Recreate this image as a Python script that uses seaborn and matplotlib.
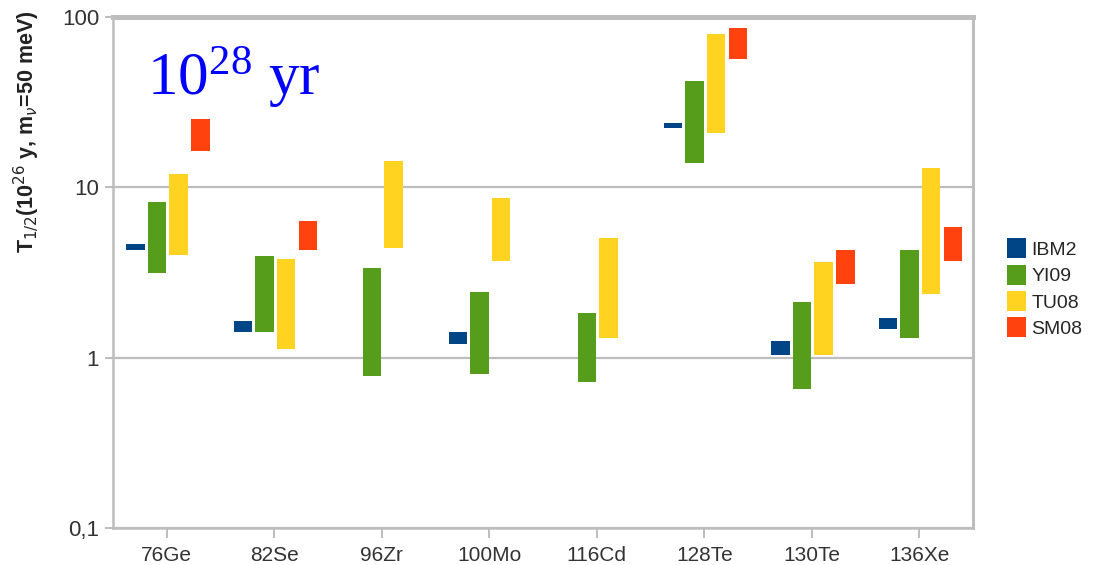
import numpy as np
import pandas as pd
import matplotlib
matplotlib.use("Agg")
import matplotlib.pyplot as plt
from matplotlib.patches import Patch
from matplotlib.ticker import FixedLocator, FixedFormatter, NullLocator
import seaborn as sns

# Half-life ranges (units of 1e26 y) for each nucleus and model
nuclei = ["76Ge", "82Se", "96Zr", "100Mo", "116Cd", "128Te", "130Te", "136Xe"]
models = ["IBM2", "YI09", "TU08", "SM08"]
nan = np.nan
ibm2_lo = [4.26, 1.42, nan, 1.21, nan, 22.2, 1.04, 1.48]
ibm2_hi = [4.62, 1.63, nan, 1.42, nan, 23.8, 1.26, 1.70]
yi09_lo = [3.12, 1.42, 0.78, 0.80, 0.72, 13.8, 0.657, 1.31]
yi09_hi = [8.16, 3.93, 3.38, 2.44, 1.84, 42.1, 2.13, 4.26]
tu08_lo = [4.03, 1.13, 4.38, 3.67, 1.31, 20.8, 1.04, 2.35]
tu08_hi = [11.9, 3.77, 14.2, 8.71, 5.01, 79.4, 3.62, 12.9]
sm08_lo = [16.3, 4.26, nan, nan, nan, 56.5, 2.69, 3.67]
sm08_hi = [25.1, 6.31, nan, nan, nan, 86.2, 4.26, 5.82]
ytick_vals = [0.1, 1, 10, 100]
ytick_text = ["0,1", "1", "10", "100"]

lows = {"IBM2": ibm2_lo, "YI09": yi09_lo, "TU08": tu08_lo, "SM08": sm08_lo}
highs = {"IBM2": ibm2_hi, "YI09": yi09_hi, "TU08": tu08_hi, "SM08": sm08_hi}

rows = []
for m in models:
    for n, lo, hi in zip(nuclei, lows[m], highs[m]):
        rows.append({"nucleus": n, "model": m, "lo": lo, "hi": hi})
df = pd.DataFrame(rows).dropna()

sns.set_style("white")
plt.rcParams["font.family"] = ["Liberation Sans", "DejaVu Sans"]

palette = dict(zip(models, ["#004586", "#579D1C", "#FFD320", "#FF420E"]))

fig = plt.figure(figsize=(11.05, 5.65), dpi=100)
ax = fig.add_axes([0.1023, 0.0655, 0.7783, 0.9045])

pos = {n: i for i, n in enumerate(nuclei)}
step, width = 0.202, 0.172
for k, m in enumerate(models):
    sub = df[df["model"] == m]
    x = sub["nucleus"].map(pos).to_numpy() + (k - 1.5) * step + 0.01
    ax.bar(x, sub["hi"] - sub["lo"], bottom=sub["lo"], width=width,
           color=palette[m], edgecolor="none", label=m, zorder=3)

ax.set_yscale("log")
ax.set_ylim(0.1, 100)
ax.set_xlim(-0.5, len(nuclei) - 0.5)
ax.yaxis.set_major_locator(FixedLocator(ytick_vals))
ax.yaxis.set_major_formatter(FixedFormatter(ytick_text))
ax.yaxis.set_minor_locator(NullLocator())
ax.set_xticks(range(len(nuclei)))
ax.set_xticklabels(nuclei)

grid_c = "#bdbdbd"
ax.yaxis.grid(True, color=grid_c, linewidth=1.6, zorder=0)
ax.xaxis.grid(False)
for side, lw in [("left", 1.8), ("right", 2.2), ("bottom", 1.8), ("top", 3.6)]:
    ax.spines[side].set_visible(True)
    ax.spines[side].set_color(grid_c)
    ax.spines[side].set_linewidth(lw)
ax.tick_params(axis="y", which="major", length=6, width=1.4, color=grid_c,
               labelsize=16, labelcolor="#333333", pad=4, left=True)
ax.tick_params(axis="x", which="major", length=7, width=1.4, color=grid_c,
               labelsize=15, labelcolor="#333333", pad=6, bottom=True)

ax.set_ylabel(r"T$_{1/2}$(10$^{26}$ y, m$_{\nu}$=50 meV)", fontsize=15.5,
              fontweight="bold", color="#222222")
ax.yaxis.set_label_coords(-0.083, 0.775)

ax.text(0.04, 0.945, r"$\mathregular{10^{28}}$ yr", transform=ax.transAxes,
        fontsize=44, color="#0000ff", family="Liberation Serif",
        va="top", ha="left")

handles = [Patch(facecolor=palette[m], edgecolor="none", label=m) for m in models]
fig.legend(handles=handles, loc="center left", bbox_to_anchor=(0.9045, 0.49),
           frameon=False, fontsize=14, handlelength=0.95, handleheight=1.2,
           handletextpad=0.3, labelspacing=0.3, borderaxespad=0)

fig.savefig("out.png", dpi=100)
